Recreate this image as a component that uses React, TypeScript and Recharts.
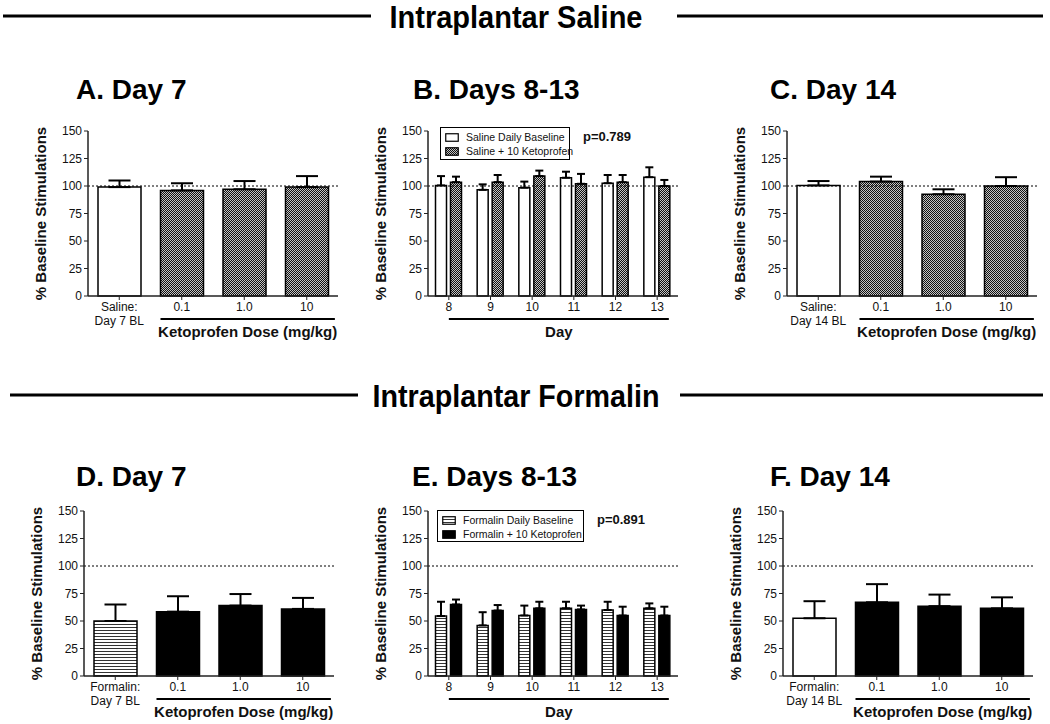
import React from 'react';
import { BarChart, Bar, XAxis, YAxis, Cell, ErrorBar, ReferenceLine, Legend } from 'recharts';

const FONT = '"Liberation Sans", Arial, Helvetica, sans-serif';

// y axis
const yTicks = [0, 25, 50, 75, 100, 125, 150];

// A. Day 7 (saline)
const catsA = ['Saline:\nDay 7 BL', '0.1', '1.0', '10'];
const meanA = [99, 96, 97, 99];
const semA = [6, 6.5, 7.5, 10];

// B. Days 8-13 (saline)
const days = ['8', '9', '10', '11', '12', '13'];
const salineBase = [100.5, 96.5, 98.5, 107.5, 102.5, 108];
const salineBaseSem = [8.5, 5, 5.5, 5.5, 7.5, 9];
const salineKeto = [103.5, 103.5, 109, 102, 103.5, 100];
const salineKetoSem = [5, 6.5, 5, 9, 6.5, 5.5];

// C. Day 14 (saline)
const catsC = ['Saline:\nDay 14 BL', '0.1', '1.0', '10'];
const meanC = [100.5, 104, 92.5, 100];
const semC = [4, 4.5, 4.5, 8];

// D. Day 7 (formalin)
const catsD = ['Formalin:\nDay 7 BL', '0.1', '1.0', '10'];
const meanD = [50, 58.5, 64, 61];
const semD = [15, 14, 10.5, 10];

// E. Days 8-13 (formalin)
const formalinBase = [54.5, 46, 55, 61.5, 60, 61.5];
const formalinBaseSem = [13, 12, 9, 6, 7.5, 4.5];
const formalinKeto = [65, 59.5, 61.5, 60.5, 55, 55];
const formalinKetoSem = [4.5, 5, 6, 3.5, 8, 8];

// F. Day 14 (formalin)
const catsF = ['Formalin:\nDay 14 BL', '0.1', '1.0', '10'];
const meanF = [52.5, 67, 63.5, 61.5];
const semF = [15.5, 16.5, 10.5, 10];

const HATCH = 'url(#hatch)';
const STRIPES = 'url(#stripes)';

const PLOT_W = 250;
const PLOT_H = 165;
const YAXIS_W = 60;
const XAXIS_H = 50;
const M_TOP = 10;
const M_RIGHT = 10;

type Series = { key: string; name: string; values: number[]; sem: number[]; fill: string | string[] };

function CatTick({ x, y, payload }: any) {
  const lines = String(payload.value).split('\n');
  return (
    <text x={x} y={y} textAnchor="middle" fontSize={12} fontFamily={FONT} fill="#111">
      {lines.map((l, i) => (
        <tspan key={i} x={x} dy={i === 0 ? '0.71em' : 14}>{l}</tspan>
      ))}
    </text>
  );
}

const yTitle = (props: any) => {
  const vb = props.viewBox;
  const cx = vb.x + vb.width - 48;
  const cy = vb.y + vb.height / 2;
  return (
    <text x={cx} y={cy} transform={`rotate(-90 ${cx} ${cy})`} textAnchor="middle" dominantBaseline="central"
      fontSize={15} fontWeight="bold" fontFamily={FONT} fill="#111">
      % Baseline Stimulations
    </text>
  );
};

const bracket = (title: string, n: number, startFrac: number, endInset: number) => (props: any) => {
  const { x, y, width } = props.viewBox;
  const band = width / n;
  const x1 = x + band * startFrac;
  const x2 = x + width - band * endInset;
  return (
    <g>
      <line x1={x1} y1={y + 23} x2={x2} y2={y + 23} stroke="#000" strokeWidth={2} />
      <text x={(x1 + x2) / 2} y={y + 41} textAnchor="middle" fontSize={15} fontWeight="bold" fontFamily={FONT} fill="#111">
        {title}
      </text>
    </g>
  );
};

function LegendBox({ items, width, height }: { items: { label: string; fill: string }[]; width: number; height: number }) {
  return (
    <div style={{
      border: '1.5px solid #000', background: '#fff', width, height, boxSizing: 'border-box',
      padding: '2px 4px', fontFamily: FONT, fontSize: 10.5, color: '#111', overflow: 'visible',
    }}>
      {items.map((it) => (
        <div key={it.label} style={{ display: 'flex', alignItems: 'center', height: 14 }}>
          <svg width={14} height={9} style={{ display: 'block', flexShrink: 0 }}>
            <rect x={0.75} y={0.75} width={12.5} height={7.5} fill={it.fill} stroke="#000" strokeWidth={1.2} />
          </svg>
          <span style={{ marginLeft: 7, whiteSpace: 'nowrap' }}>{it.label}</span>
        </div>
      ))}
    </div>
  );
}

function Panel({ left, top, categories, series, gap, errWidth, xTitle, startFrac, endInset, legend }: {
  left: number; top: number; categories: string[]; series: Series[]; gap: string; errWidth: number;
  xTitle: string; startFrac: number; endInset: number;
  legend?: { x: number; y: number; w: number; h: number };
}) {
  const data = categories.map((c, i) => {
    const row: any = { name: c };
    series.forEach((s) => {
      row[s.key] = s.values[i];
      row[s.key + 'Err'] = [0, s.sem[i]];
    });
    return row;
  });
  return (
    <div style={{ position: 'absolute', left: left - YAXIS_W, top: top - M_TOP }}>
      <BarChart width={YAXIS_W + PLOT_W + M_RIGHT} height={M_TOP + PLOT_H + XAXIS_H} data={data}
        margin={{ top: M_TOP, right: M_RIGHT, left: 0, bottom: 0 }} barCategoryGap={gap} barGap={4}>
        <XAxis dataKey="name" interval={0} height={XAXIS_H} tickSize={4} tickMargin={2}
          axisLine={{ stroke: '#222', strokeWidth: 1.5 }} tickLine={{ stroke: '#222' }}
          tick={<CatTick />} label={bracket(xTitle, categories.length, startFrac, endInset)} />
        <YAxis domain={[0, 150]} ticks={yTicks} interval={0} width={YAXIS_W} tickSize={4}
          axisLine={{ stroke: '#222', strokeWidth: 1.5 }} tickLine={{ stroke: '#222' }}
          tick={{ fontSize: 12, fill: '#111', fontFamily: FONT }} label={yTitle} />
        <ReferenceLine y={100} stroke="#000" strokeDasharray="2 2" strokeWidth={1} />
        {series.map((s) => (
          <Bar key={s.key} dataKey={s.key} name={s.name} fill={typeof s.fill === 'string' ? s.fill : '#fff'}
            stroke="#000" strokeWidth={1.5} isAnimationActive={false}>
            {Array.isArray(s.fill) && s.fill.map((f, i) => <Cell key={i} fill={f} />)}
            <ErrorBar dataKey={s.key + 'Err'} width={errWidth} stroke="#000" strokeWidth={2} direction="y" isAnimationActive={false} />
          </Bar>
        ))}
        {legend && (
          <Legend verticalAlign="middle" align="center" layout="horizontal"
            wrapperStyle={{ left: legend.x, top: legend.y, width: legend.w, height: legend.h }}
            content={() => (
              <LegendBox width={legend.w} height={legend.h}
                items={series.map((s) => ({ label: s.name, fill: typeof s.fill === 'string' ? s.fill : s.fill[0] }))} />
            )} />
        )}
      </BarChart>
    </div>
  );
}

function Header({ text, y, textW, lines }: { text: string; y: number; textW: number; lines: number[][] }) {
  return (
    <g>
      {lines.map(([x1, x2], i) => (
        <line key={i} x1={x1} x2={x2} y1={y - 12} y2={y - 12} stroke="#000" strokeWidth={3} />
      ))}
      <text x={516} y={y} textAnchor="middle" fontSize={31} fontWeight="bold" fontFamily={FONT}
        textLength={textW} lengthAdjust="spacingAndGlyphs" fill="#000">{text}</text>
    </g>
  );
}

const titles = [
  { t: 'A. Day 7', x: 76, y: 99 },
  { t: 'B. Days 8-13', x: 413, y: 99 },
  { t: 'C. Day 14', x: 770, y: 99 },
  { t: 'D. Day 7', x: 76, y: 486 },
  { t: 'E. Days 8-13', x: 412, y: 486 },
  { t: 'F. Day 14', x: 770, y: 486 },
];

export default function App() {
  const dose = (values: number[], sem: number[], fills: string[]): Series[] => [
    { key: 'v', name: 'mean', values, sem, fill: fills },
  ];
  return (
    <div style={{ position: 'absolute', left: 0, top: 0, width: 1050, height: 724, background: '#fff', fontFamily: FONT }}>
      <svg width={0} height={0} style={{ position: 'absolute' }}>
        <defs>
          <pattern id="hatch" width="2" height="2" patternUnits="userSpaceOnUse">
            <rect width="2" height="2" fill="#c4c4c4" />
            <rect width="1" height="1" fill="#111" />
            <rect x="1" y="1" width="1" height="1" fill="#111" />
          </pattern>
          <pattern id="stripes" width="4" height="3" patternUnits="userSpaceOnUse">
            <rect width="4" height="3" fill="#fff" />
            <rect width="4" height="1" fill="#333" />
          </pattern>
        </defs>
      </svg>
      <svg width={1050} height={724} style={{ position: 'absolute', left: 0, top: 0 }}>
        <Header text="Intraplantar Saline" y={28} textW={253} lines={[[3, 371], [677, 1043]]} />
        <Header text="Intraplantar Formalin" y={407} textW={287} lines={[[10, 358], [680, 1043]]} />
        {titles.map((t) => (
          <text key={t.t} x={t.x} y={t.y} fontSize={28} fontWeight="bold" fontFamily={FONT} fill="#000">{t.t}</text>
        ))}
        <text x={583} y={141} fontSize={13} fontWeight="bold" fontFamily={FONT} fill="#111">p=0.789</text>
        <text x={597} y={524} fontSize={13} fontWeight="bold" fontFamily={FONT} fill="#111">p=0.891</text>
      </svg>

      <Panel left={88} top={131} categories={catsA} series={dose(meanA, semA, ['#fff', HATCH, HATCH, HATCH])}
        gap="16%" errWidth={11} xTitle="Ketoprofen Dose (mg/kg)" startFrac={1.16} endInset={0.05} />
      <Panel left={428} top={131} categories={days}
        series={[
          { key: 'base', name: 'Saline Daily Baseline', values: salineBase, sem: salineBaseSem, fill: '#fff' },
          { key: 'keto', name: 'Saline + 10 Ketoprofen', values: salineKeto, sem: salineKetoSem, fill: HATCH },
        ]}
        gap="18%" errWidth={4} xTitle="Day" startFrac={0.5} endInset={0.22}
        legend={{ x: 72, y: 6, w: 130, h: 33 }} />
      <Panel left={787} top={131} categories={catsC} series={dose(meanC, semC, ['#fff', HATCH, HATCH, HATCH])}
        gap="16%" errWidth={11} xTitle="Ketoprofen Dose (mg/kg)" startFrac={1.16} endInset={0.05} />

      <Panel left={84} top={511} categories={catsD} series={dose(meanD, semD, [STRIPES, '#000', '#000', '#000'])}
        gap="16%" errWidth={11} xTitle="Ketoprofen Dose (mg/kg)" startFrac={1.16} endInset={0.05} />
      <Panel left={428} top={511} categories={days}
        series={[
          { key: 'base', name: 'Formalin Daily Baseline', values: formalinBase, sem: formalinBaseSem, fill: STRIPES },
          { key: 'keto', name: 'Formalin + 10 Ketoprofen', values: formalinKeto, sem: formalinKetoSem, fill: '#000' },
        ]}
        gap="18%" errWidth={4} xTitle="Day" startFrac={0.5} endInset={0.22}
        legend={{ x: 69, y: 9, w: 147, h: 32 }} />
      <Panel left={783} top={511} categories={catsF} series={dose(meanF, semF, ['#fff', '#000', '#000', '#000'])}
        gap="16%" errWidth={11} xTitle="Ketoprofen Dose (mg/kg)" startFrac={1.16} endInset={0.05} />
    </div>
  );
}
